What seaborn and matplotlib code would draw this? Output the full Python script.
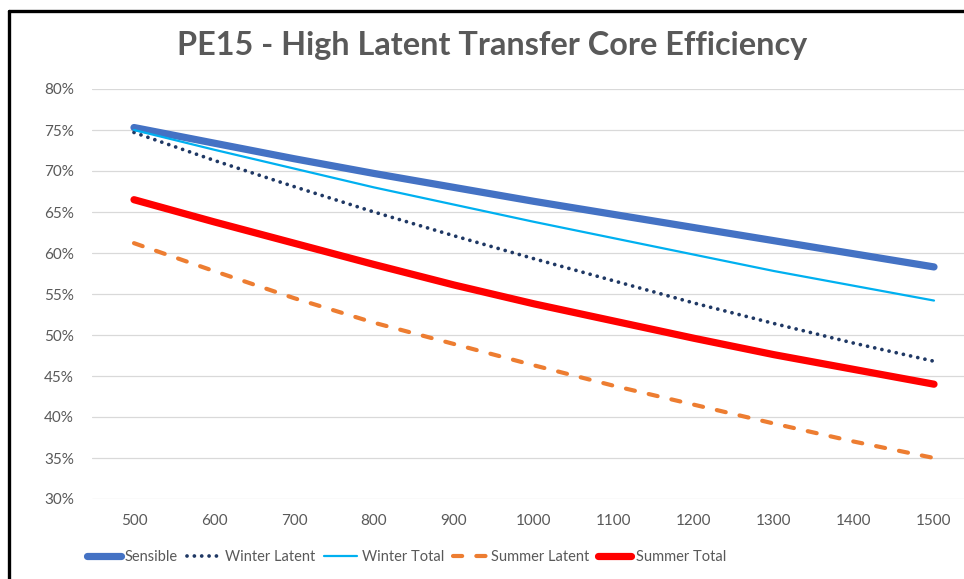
"""
plot.py

PE15 high latent transfer core efficiency vs airflow, Excel-style line chart.
"""

import numpy as np
import pandas as pd
import matplotlib.pyplot as plt
import seaborn as sns
from matplotlib.lines import Line2D
from matplotlib.ticker import FuncFormatter


AIRFLOW = [500, 600, 700, 800, 900, 1000, 1100, 1200, 1300, 1400, 1500]

SENSIBLE = [75.3, 73.4, 71.5, 69.7, 68.0, 66.3, 64.7, 63.1, 61.5, 59.9, 58.3]
WINTER_LATENT = [74.7, 71.3, 68.1, 65.0, 62.1, 59.3, 56.6, 53.9, 51.4, 49.0, 46.8]
WINTER_TOTAL = [75.0, 72.6, 70.3, 68.0, 65.9, 63.8, 61.8, 59.8, 57.8, 56.0, 54.2]
SUMMER_LATENT = [61.2, 57.8, 54.5, 51.5, 48.9, 46.3, 43.8, 41.5, 39.2, 37.0, 35.0]
SUMMER_TOTAL = [66.5, 63.8, 61.2, 58.6, 56.1, 53.8, 51.7, 49.6, 47.6, 45.8, 44.0]

SERIES = ["Sensible", "Winter Latent", "Winter Total", "Summer Latent", "Summer Total"]

STYLES = {
    "Sensible": dict(color="#4472C4", lw=5.2, dashes=None),
    "Winter Latent": dict(color="#1F3864", lw=2.7, dashes=(0.01, 1.95)),
    "Winter Total": dict(color="#00B0F0", lw=1.6, dashes=None),
    "Summer Latent": dict(color="#ED7D31", lw=3.0, dashes=(2.2, 3.4)),
    "Summer Total": dict(color="#FF0000", lw=5.2, dashes=None),
}

TEXT_GREY = "#595959"
GRID_GREY = "#D9D9D9"


def build_frame() -> pd.DataFrame:
    values = [SENSIBLE, WINTER_LATENT, WINTER_TOTAL, SUMMER_LATENT, SUMMER_TOTAL]
    parts = []
    for name, vals in zip(SERIES, values):
        parts.append(pd.DataFrame({"airflow": AIRFLOW, "efficiency": vals, "series": name}))
    return pd.concat(parts, ignore_index=True)


def main() -> None:
    df = build_frame()

    sns.set_theme(style="white")
    plt.rcParams["font.family"] = ["Lato", "DejaVu Sans"]

    W, H = 964, 579
    fig = plt.figure(figsize=(W / 100, H / 100), dpi=100)
    ax = fig.add_axes([92 / W, 1 - 499 / H, (964 - 92) / W, (499 - 89) / H])

    for name in SERIES:
        st = STYLES[name]
        sub = df[df["series"] == name]
        sns.lineplot(
            data=sub, x="airflow", y="efficiency", ax=ax,
            color=st["color"], linewidth=st["lw"], label=name,
            solid_capstyle="round", dash_capstyle="round",
        )
        line = ax.get_lines()[-1]
        if st["dashes"] is not None:
            line.set_dashes(st["dashes"])

    ax.set_xlim(447.5, 1537.5)
    ax.set_ylim(30, 80)
    ax.set_xticks(AIRFLOW)
    ax.set_yticks(np.arange(30, 81, 5))
    ax.yaxis.set_major_formatter(FuncFormatter(lambda v, _: f"{v:.0f}%"))
    ax.grid(axis="y", color=GRID_GREY, linewidth=0.9)
    ax.set_axisbelow(True)
    for s in ax.spines.values():
        s.set_visible(False)
    ax.tick_params(axis="both", length=0, labelsize=11, labelcolor=TEXT_GREY)
    ax.tick_params(axis="x", pad=11)
    ax.tick_params(axis="y", pad=13)
    ax.set_xlabel("")
    ax.set_ylabel("")

    handles, labels = ax.get_legend_handles_labels()
    ax.legend(
        handles, labels, ncol=5, frameon=False,
        loc="center left", bbox_to_anchor=(74 / W, 1 - 557 / H),
        bbox_transform=fig.transFigure,
        fontsize=10.5, labelcolor=TEXT_GREY,
        handlelength=2.3, handletextpad=0.3, columnspacing=0.6,
    )

    fig.text(492 / W, 1 - 46 / H, "PE15 - High Latent Transfer Core Efficiency",
             ha="center", va="center", fontsize=23.3, fontweight="bold",
             color=TEXT_GREY)

    # chart frame (cropped on the right and bottom)
    fig.add_artist(Line2D([9 / W, 1], [1 - 11 / H, 1 - 11 / H], color="black",
                          linewidth=2.4, transform=fig.transFigure))
    fig.add_artist(Line2D([9 / W, 9 / W], [0, 1 - 11 / H], color="black",
                          linewidth=2.4, transform=fig.transFigure))

    fig.savefig("out.png", dpi=100)
    plt.close(fig)


if __name__ == "__main__":
    main()
